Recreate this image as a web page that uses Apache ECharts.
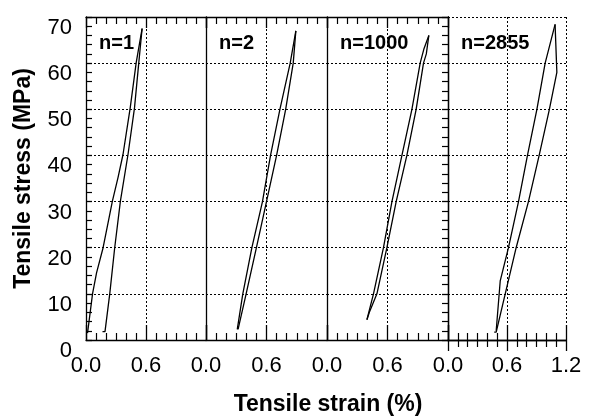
<!DOCTYPE html>
<html>
<head>
<meta charset="utf-8">
<script src="https://cdn.jsdelivr.net/npm/echarts@6/dist/echarts.min.js"></script>
<style>
    html, body { margin: 0; padding: 0; background: #fff; }
    #stress_chart { width: 591px; height: 417px; }
</style>
</head>
<body>
<div id="stress_chart"></div>
<script type="text/javascript">

    // cycle number of each panel
    var panelNames = ['n=1', 'n=2', 'n=1000', 'n=2855'];

    // [strain %, stress MPa]
    var p1Load = [[0.015, 1.5], [0.03, 4.0], [0.066, 10.1], [0.106, 14.6], [0.171, 20], [0.264, 30.1], [0.32, 35.2], [0.37, 40.2], [0.442, 50.3], [0.502, 60.1], [0.561, 67.5]];
    var p1Unload = [[0.561, 67.5], [0.528, 60.1], [0.485, 50.3], [0.42, 40.2], [0.344, 30.1], [0.287, 20], [0.238, 10.1], [0.19, 1.8], [0.165, 1.8]];

    var p2Load = [[0.31, 2.3], [0.365, 10], [0.455, 20], [0.56, 30], [0.64, 40], [0.733, 50], [0.835, 60], [0.891, 67]];
    var p2Unload = [[0.891, 67], [0.865, 60], [0.79, 50], [0.70, 40], [0.60, 30], [0.50, 20], [0.398, 10], [0.318, 2.3]];

    var p3Load = [[0.396, 4.4], [0.461, 10], [0.56, 20], [0.644, 30], [0.743, 40], [0.842, 50], [0.924, 60], [0.96, 63], [1.01, 66]];
    var p3Unload = [[1.01, 66], [0.985, 62], [0.957, 60], [0.884, 50], [0.792, 40], [0.686, 30], [0.594, 20], [0.495, 10], [0.42, 6], [0.396, 4.4]];

    var p4Load = [[0.49, 2.0], [0.531, 12.8], [0.615, 20], [0.717, 30], [0.808, 40], [0.904, 50], [0.988, 60], [1.089, 68.4]];
    var p4Unload = [[1.089, 68.4], [1.107, 58], [1.031, 50], [0.927, 40], [0.818, 30], [0.693, 20], [0.582, 10], [0.49, 1.7], [0.47, 1.7]];

    var loops = [[p1Load, p1Unload], [p2Load, p2Unload], [p3Load, p3Unload], [p4Load, p4Unload]];

    var FONT = 'Liberation Sans, Arial, Helvetica, sans-serif';
    var panelLeft = [86, 206, 327, 448];
    var panelWidth = [120, 121, 121, 118];
    var dotted = {show: true, lineStyle: {color: '#000', width: 1, type: [2, 2]}};
    var blackLine = {show: true, lineStyle: {color: '#000', width: 1.3}};

    var grids = [], xAxes = [], yAxes = [], series = [], graphics = [];

    for (var i = 0; i < 4; i++) {
        grids.push({left: panelLeft[i], width: panelWidth[i], top: 17, height: 323});
    }

    // bottom axes with labels
    for (var i = 0; i < 4; i++) {
        xAxes.push({
            type: 'value', gridIndex: i, position: 'bottom',
            min: 0, max: 1.2, interval: 0.6,
            axisLine: blackLine,
            axisTick: {inside: true, length: 15, lineStyle: {color: '#000', width: 1.3}},
            minorTick: {show: true, splitNumber: 6, length: 7, lineStyle: {color: '#000', width: 1.2}},
            splitLine: dotted,
            axisLabel: {
                show: true, margin: 15, fontSize: 22, color: '#000', fontFamily: FONT,
                showMaxLabel: i == 3,
                formatter: function (v) { return v.toFixed(1); }
            }
        });
    }
    // top axes, ticks only
    for (var i = 0; i < 4; i++) {
        xAxes.push({
            type: 'value', gridIndex: i, position: 'top',
            min: 0, max: 1.2, interval: 0.6,
            axisLine: blackLine,
            axisTick: {inside: true, length: 11, lineStyle: {color: '#000', width: 1.3}},
            minorTick: {show: true, splitNumber: 6, length: 7, lineStyle: {color: '#000', width: 1.2}},
            splitLine: {show: false},
            axisLabel: {show: false}
        });
    }

    for (var i = 0; i < 4; i++) {
        var y = {
            type: 'value', gridIndex: i, position: 'left',
            min: 0, max: 70, interval: 10,
            axisLine: blackLine,
            splitLine: dotted,
            axisTick: {show: false},
            axisLabel: {show: false}
        };
        if (i == 0) {
            y.axisTick = {show: true, inside: true, length: 6, lineStyle: {color: '#000', width: 1.3}};
            y.minorTick = {show: true, splitNumber: 5, length: 6, lineStyle: {color: '#000', width: 1.2}};
            y.axisLabel = {show: true, margin: 14, fontSize: 22, color: '#000', fontFamily: FONT, verticalAlign: 'top'};
            y.name = 'Tensile stress (MPa)';
            y.nameLocation = 'middle';
            y.nameGap = 51;
            y.nameTextStyle = {fontSize: 23, fontWeight: 'bold', color: '#000', fontFamily: FONT};
        }
        yAxes.push(y);
    }
    // right frame of last panel
    yAxes.push({
        type: 'value', gridIndex: 3, position: 'right',
        min: 0, max: 70, interval: 10,
        axisLine: blackLine,
        splitLine: {show: false},
        axisTick: {show: true, inside: true, length: 6, lineStyle: {color: '#000', width: 1.3}},
        minorTick: {show: true, splitNumber: 5, length: 6, lineStyle: {color: '#000', width: 1.2}},
        axisLabel: {show: false}
    });

    for (var i = 0; i < 4; i++) {
        for (var k = 0; k < 2; k++) {
            series.push({
                type: 'line', xAxisIndex: i, yAxisIndex: i,
                data: loops[i][k],
                showSymbol: false, symbol: 'none',
                lineStyle: {color: '#000', width: 1.3},
                animation: false
            });
        }
        graphics.push({
            type: 'text', left: panelLeft[i] + 13, top: 33,
            style: {text: panelNames[i], font: 'bold 20px ' + FONT, fill: '#000'}
        });
    }
    graphics.push({
        type: 'text', x: 328, y: 405,
        style: {text: 'Tensile strain (%)', font: 'bold 23px ' + FONT, fill: '#000', textAlign: 'center', textVerticalAlign: 'middle'}
    });

    var chart = echarts.init(document.getElementById('stress_chart'));
    chart.setOption({
        animation: false,
        grid: grids,
        xAxis: xAxes,
        yAxis: yAxes,
        series: series,
        graphic: graphics
    });

</script>
</body>
</html>
